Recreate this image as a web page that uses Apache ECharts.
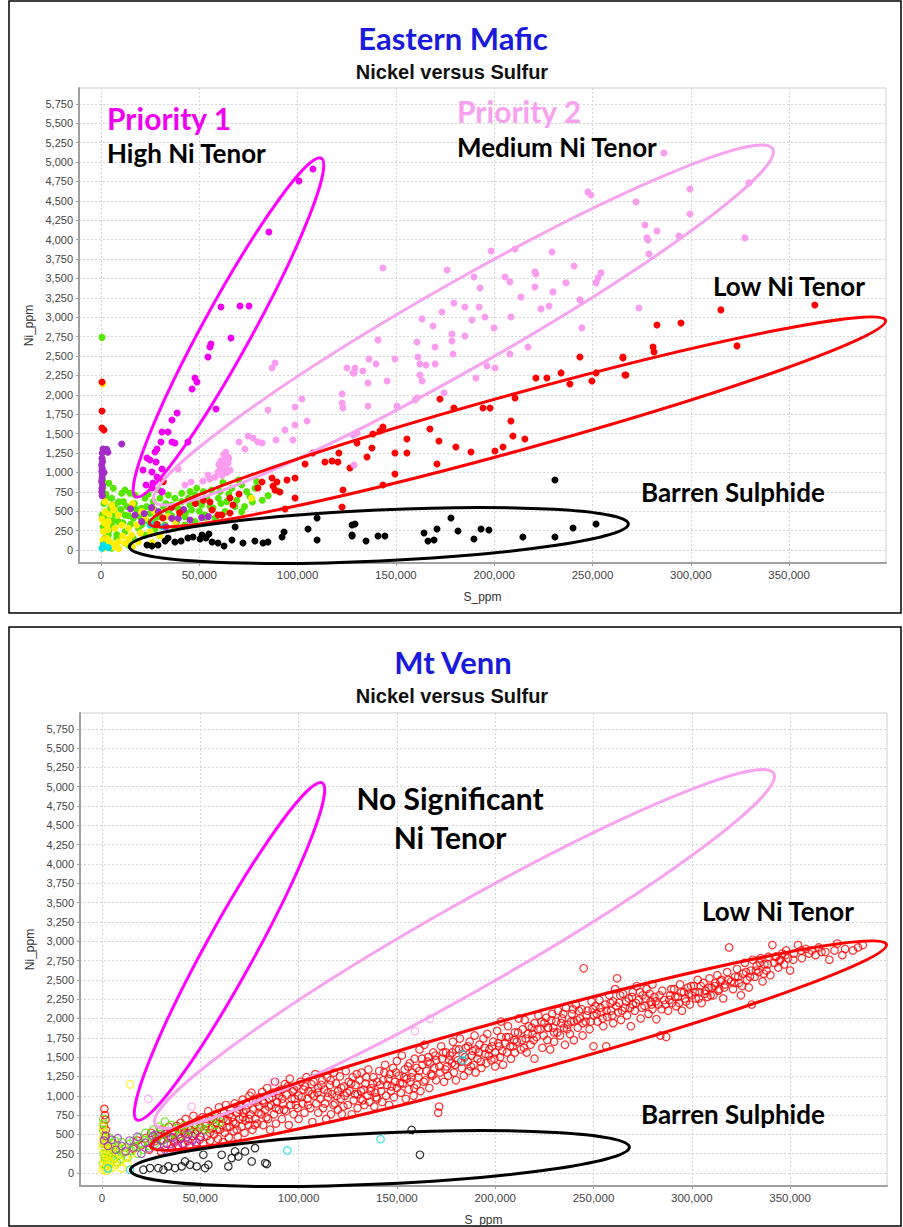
<!DOCTYPE html>
<html><head><meta charset="utf-8">
<script src="https://cdn.jsdelivr.net/npm/echarts@6.0.0/dist/echarts.min.js"></script>
<style>html,body{margin:0;padding:0;background:#fff}#c{width:903px;height:1227px}</style>
</head><body><div id="c"></div><script>
// ---------- tick labels ----------
const xTicks = [0, 50000, 100000, 150000, 200000, 250000, 300000, 350000];
const yTicks = [0,250,500,750,1000,1250,1500,1750,2000,2250,2500,2750,3000,3250,3500,3750,4000,4250,4500,4750,5000,5250,5500,5750];

// ---------- Eastern Mafic (filled points) [S_ppm, Ni_ppm] ----------
const emMagenta = [[107800,4910],[100700,4756],[85400,4099],[61000,3132],[70700,3145],[75300,3145],[66100,2733],[55900,2655],[55400,2617],[54400,2488],[47800,2217],[48800,2165],[46300,2075],[58500,1817],[38700,1766],[36100,1676],[31000,1521],[34100,1521],[44200,1392],[36100,1392],[37600,1379],[30500,1392],[28500,1302],[27500,1263],[23400,1186],[24900,1160],[28000,1134],[21400,1031],[25900,1005],[31000,1044],[28500,941],[22900,838],[26400,864],[25900,799],[31000,748]];
const emPink = [[143400,3635],[247700,4615],[249200,4576],[198400,3854],[210600,3880],[229400,3841],[176000,3609],[240600,3661],[189700,3519],[205500,3519],[208000,3455],[220700,3584],[221200,3558],[254300,3571],[252800,3506],[251800,3442],[236500,3442],[192800,3377],[220700,3390],[229900,3326],[213600,3261],[179500,3184],[185100,3132],[192300,3132],[173400,3068],[243600,3223],[227900,3145],[223800,3107],[163300,2978],[168900,2887],[188700,2965],[195300,3003],[208500,3003],[199900,2862],[244600,2862],
[286300,5117],[299600,4653],[272100,4486],[329600,4731],[299600,4331],[276700,4189],[282800,4112],[277700,4022],[278200,3996],[294000,4047],[327500,4022],[278700,3815],[273600,3119],
[140900,2707],[178500,2784],[178500,2694],[185100,2758],[160700,2681],[169900,2617],[179000,2526],[149500,2462],[136300,2462],[139900,2398],[161200,2488],[162200,2398],[165300,2385],[169900,2398],[133200,2307],[129200,2346],[128700,2282],[145500,2178],[162200,2256],[163300,2178],[135800,2153],[190700,2217],[196300,2372],[200400,2346],[208000,2526],[217200,2617],[174500,2024],[160700,1959],[159700,1933],[150500,1856],[135800,1856],[130200,1508],[128200,1482],
[88500,2410],[87000,2346],[125100,2346],[128200,2282],[102200,1946],[98700,1843],[122600,2011],[122600,1895],[123100,1830],[84900,1805],[104800,1663],[98700,1611],[93600,1547],[97600,1418],[89000,1418],[79800,1392],[77300,1444],[74800,1469],[81900,1379],[70200,1392],[73200,1302],[64600,1199],[63100,1173],[61500,1121],[60500,1070],[64600,1121],[62000,1031],[59500,1005],[58000,941],[65600,1031],[54400,967],[51900,889],[55400,915],[45800,877],[42700,838],[39200,1044],[128700,1096],
[61000,1150],[63000,1080],[62500,1230],[60000,1100],[64000,1000],[61500,960],[63500,1260],[65000,1180]];
const emRed = [[315300,3094],[363100,3158],[282800,2900],[295000,2926],[323500,2630],[280800,2617],[281300,2552],[265500,2475],[267000,2256],[243600,2488],[265500,2488],[266500,2256],[251800,2282],[249700,2178],[234000,2282],[226800,2217],[221200,2217],[238500,2140],[210600,1959],[172400,1946],[179500,1830],[194300,1830],[197900,1830],[208500,1663],[209500,1469],[215600,1431],[167300,1560],[171900,1405],[155600,1431],[143400,1585],[141900,1534],[138300,1495],[130200,1379],[137800,1315],[135300,1199],[149500,1250],[155600,1250],[180500,1328],[188200,1263],[200400,1276],[204500,1328],[170900,1109],[149500,980],[143400,838],[126600,1057],
[107800,1250],[121000,1250],[117500,1147],[120500,1134],[113900,1134],[103800,1109],[98700,928],[94600,902],[89500,877],[87500,825],[88500,773],[91000,748],[81900,877],[79800,799],[87000,928],[70200,722],[65600,670],[67100,580],[61500,451],[55400,619],[56500,516],[59500,451],[65600,477],[93600,529],[98700,670],[123100,773],[122600,554],
[500,2165],[500,1792],[500,1573],[1500,1547],[31500,412],[28500,330],[36000,550],[40000,480],[48000,600],[52000,640],[31700,881]];
const emBlack = [[230900,902],[178000,412],[129200,335],[127700,180],[134800,116],[140900,180],[144400,180],[164300,219],[166300,116],[169400,129],[170900,271],[181600,245],[189700,142],[193300,271],[197300,258],[214600,168],[230900,168],[240100,284],[251800,335],
[109900,412],[105300,271],[93100,232],[92100,168],[84900,103],[82400,90],[78300,116],[72200,90],[62600,52],[59500,90],[66600,129],[68200,296],[54900,206],[53400,155],[46800,168],[44200,155],[40700,116],[37600,103],[32600,116],[29000,64],[25900,52],[23400,64],[127700,322],[127700,193],[109900,129],[50400,142],[56500,103],[51400,193],[34100,155]];
const emGreen = [[6270,795],[12210,773],[17290,709],[22380,666],[11360,623],[7120,580],[15600,559],[20680,537],[26610,623],[30010,666],[34240,709],[37640,666],[41030,623],[44420,666],[47810,709],[52050,752],[56290,773],[60520,752],[66460,795],[71540,838],[74090,752],[78320,795],[75780,687],[79170,881],[51200,580],[46110,516],[42720,430],[38480,365],[34240,494],[30010,430],[25770,365],[20680,322],[16440,408],[12210,451],[8810,365],[5430,322],[3730,193],[7970,150],[12210,236],[16440,150],[22380,193],[27460,271],[32550,322],[37640,279],[42720,322],[47810,365],[52890,451],[57980,408],[63070,494],[68150,559],[71540,494],[2880,666],[3730,494],[2030,365],[5430,666],[14750,730],[10510,730],[1190,107],[5430,21],[13900,64],[24920,473],[31700,559],[40180,516],[45270,580],[55440,559],[63910,623],[59680,666],[53740,666],[48660,614],[35940,580],[41030,730],[45270,752],[48660,795],[19840,430],[23230,559],[500,2740],[1000,800],[85000,700],[90000,760],[62000,870],[70000,900],
[2000,150],[3000,420],[4000,250],[5000,560],[6000,380],[7000,460],[8000,200],[9000,620],[10000,520],[11000,350],[13000,560],[14000,440],[15000,330],[17000,600],[18000,520],[19000,280],[21000,460],[23000,380],[24000,720],[27000,520],[28000,420],[29000,780],[33000,600],[36000,440],[39000,540],[43000,480],[46000,640],[50000,500],[53000,420],[57000,540],[61000,600],[65000,720],[69000,640],[73000,560],[77000,620],[82000,640],[1000,300],[1500,600],[600,450],[1200,700],[2500,720],[4000,860],[800,900]];
const emYellow = [[1190,236],[2880,150],[4580,107],[7120,64],[8810,107],[12210,86],[15600,193],[18140,322],[20680,494],[22380,408],[5430,580],[2030,494],[3730,365],[10510,322],[13900,279],[18990,107],[29160,322],[24920,236],[34240,430],[37640,365],[7120,279],[8810,451],[1190,21],[2880,322],[2030,623],[1000,2140],[2500,1270],[76600,666],
[500,400],[1500,350],[3500,260],[6000,40],[9000,20],[11000,180],[14000,140],[16000,40],[20000,220],[26000,100],[30000,180],[4000,460],[6500,520],[1000,130],[2000,60],[16000,600],[27000,500]];
const emCyan = [[500,21],[1190,64],[24920,322],[25770,330],[31200,300],[3730,30]];
const emPurple = [[500,1182],[800,1139],[300,1096],[600,1053],[400,1010],[700,967],[500,924],[300,881],[800,838],[500,795],[400,750],[600,700],[10510,1366],[2880,1298],[3500,1260],[35940,408],[45270,387],[51200,417],[31000,752],[25770,546],[29160,494],[17290,451],[20680,365],[39330,408],[54590,430],
[1000,1300],[600,1250],[1500,1000],[15000,530],[22000,470],[33000,300],[42000,520]];

// ---------- Mt Venn (hollow points) [S_ppm, Ni_ppm] ----------
const mvRed = [[1200,830],[1500,750],[1800,690],[1000,610],[2000,560],[1500,480],
[16000,310],[18000,420],[20000,360],[22000,450],[24000,300],[25000,520],[27000,410],[28000,350],[29000,480],[30000,560],[30000,280],
[31000,430],[32000,510],[33000,380],[34000,600],[35000,470],[35500,320],[36000,540],[37000,420],[38000,610],[38500,360],[39000,500],[40000,450],[40000,650],[40500,560],
[41000,380],[42000,520],[42500,700],[43000,460],[44000,610],[44500,350],[45000,560],[46000,480],[46500,740],[47000,620],[48000,400],[48500,540],[49000,680],[50000,470],[50000,590],
[51000,720],[51500,380],[52000,560],[53000,640],[53500,480],[54000,800],[55000,420],[55500,700],[56000,580],[57000,500],[57500,760],[58000,650],[59000,440],[59500,850],[60000,560],[60000,720],
[61000,620],[61500,400],[62000,780],[62500,520],[63000,880],[64000,680],[64500,460],[65000,600],[65500,820],[66000,720],[67000,540],[67500,900],[68000,640],[68500,780],[69000,470],[70000,700],[70000,860],
[71000,600],[71500,950],[72000,780],[72500,520],[73000,680],[74000,880],[74500,620],[75000,1000],[75500,760],[76000,1040],[76500,560],[77000,820],[78000,700],[78500,920],[79000,640],[80000,860],[80000,980],
[81000,760],[81500,1050],[82000,620],[82500,900],[83000,820],[84000,1100],[84500,700],[85000,960],[85500,560],[86000,880],[87000,1040],[87500,760],[88000,1180],[88500,640],[89000,920],[90000,1000],[90000,820],
[91000,1080],[91500,700],[92000,900],[93000,1150],[93500,800],[94000,1010],[95000,620],[95500,1220],[96000,880],[97000,1060],[97500,760],[98000,960],[99000,1120],[99500,840],[100000,1000],[100000,700],
[101000,1180],[102000,900],[102500,1080],[103000,780],[104000,1240],[104500,960],[105000,1060],[106000,840],[106500,1150],[107000,660],[108000,1000],[108500,1280],[109000,900],[110000,1100],[110000,780],
[111000,960],[112000,1200],[112500,840],[113000,1080],[114000,700],[114500,1240],[115000,980],[116000,1140],[116500,760],[117000,1020],[118000,1300],[118500,900],[119000,1160],[120000,820],[120000,1060],
[121000,1250],[121500,960],[122000,760],[123000,1120],[123500,1000],[124000,1320],[125000,880],[125500,1180],[126000,1060],[127000,760],[127500,1240],[128000,940],[129000,1140],[130000,1020],[130000,840],
[131000,1200],[131500,960],[132000,1300],[133000,1080],[133500,880],[134000,1160],[135000,1000],[135500,1340],[136000,920],[137000,1100],[138000,1240],[138500,860],[139000,1040],[140000,1180],[140000,960],
[141000,1320],[142000,1060],[142500,920],[143000,1200],[144000,1400],[144500,1000],[145000,1140],[146000,880],[146500,1280],[147000,1060],[148000,1360],[148500,980],[149000,1180],[150000,1100],[150000,1450],
[151000,1260],[152000,1040],[152500,1520],[153000,1160],[154000,1340],[154500,960],[155000,1220],[156000,1080],[156500,1420],[157000,1180],[158000,1300],[158500,1000],[159000,1480],[160000,1140],[160000,1360],
[161000,1240],[161500,1600],[162000,1060],[163000,1400],[164000,1660],[164500,1200],[165000,1320],[166000,1500],[166500,1100],[167000,1420],[168000,1260],[168500,1560],[169000,1360],[170000,1200],[170000,1460],[171000,780],[171500,860],
[172000,1300],[172500,1640],[173000,1480],[174000,1180],[175000,1560],[175500,1380],[176000,1260],[177000,1520],[178000,1420],[178500,1700],[179000,1300],[180000,1600],[180000,1200],
[181000,1460],[182000,1740],[183000,1360],[183500,1540],[184000,1260],[185000,1620],[186000,1440],[186500,1320],[187000,1700],[188000,1520],[189000,1400],[189500,1780],[190000,1600],[190000,1300],
[191000,1480],[192000,1660],[193000,1360],[194000,1740],[195000,1540],[195500,1420],[196000,1800],[197000,1600],[198000,1460],[199000,1700],[200000,1380],[200000,1560],
[201000,1840],[202000,1640],[202500,1500],[203000,1760],[204000,1400],[205000,1680],[206000,1560],[206500,1900],[207000,1760],[208000,1480],[209000,1640],[210000,1820],[210000,1560],[203000,1960],
[211000,1700],[212000,2000],[213000,1600],[214000,1860],[215000,1980],[215500,1740],[216000,1560],[217000,1900],[218000,1660],[219000,1800],[220000,1480],[220000,1940],
[221000,1760],[222000,2040],[223000,1860],[224000,1620],[225000,1940],[226000,2010],[226500,1720],[227000,1880],[228000,1600],[229000,2060],[230000,1820],[230000,1700],
[231000,1960],[232000,2100],[233000,1780],[234000,2000],[235000,1880],[235500,1660],[236000,2140],[237000,1920],[238000,1800],[239000,2060],[240000,1960],[240000,1720],
[241000,2180],[242000,1880],[243000,2000],[244000,2120],[244500,1780],[245000,2650],[246000,1960],[247000,2100],[248000,1860],[249000,2220],[250000,2040],[250000,1640],
[251000,2160],[252000,1960],[253000,2240],[254000,2080],[255000,1900],[256000,2180],[256500,1640],[257000,2020],[258000,2300],[259000,2100],[260000,1940],[260000,2220],
[261000,2380],[262000,2520],[262500,2080],[263000,2200],[264000,1980],[265000,2320],[266000,2140],[267000,2040],[268000,2260],[269000,1900],[270000,2180],[270000,2340],
[271000,2100],[272000,2420],[273000,2240],[274000,2000],[275000,2300],[276000,2160],[277000,2380],[278000,2060],[279000,2220],[280000,2120],[280000,2440],
[281000,2280],[282000,1990],[283000,2180],[284000,1780],[285000,2360],[286000,2240],[287000,1760],[288000,2100],[289000,2300],[290000,2200],
[291000,2380],[292000,2160],[293000,2280],[294000,2440],[295000,2100],[296000,2340],[297000,2220],[298000,2400],[299000,2180],[300000,2300],
[301000,2420],[302000,2260],[303000,2500],[304000,2340],[305000,2200],[306000,2460],[307000,2360],[308000,2280],[309000,2520],[310000,2400],
[311000,2300],[312000,2460],[313000,2560],[314000,2380],[315000,2500],[316000,2260],[317000,2440],[318000,2600],[319000,2920],[320000,2480],
[321000,2380],[322000,2540],[323000,2640],[324000,2460],[325000,2300],[326000,2580],[327000,2720],[328000,2500],[329000,2400],[330000,2620],[330500,2180],
[331000,2760],[332000,2540],[333000,2680],[334000,2600],[335000,2780],[336000,2480],[337000,2700],[338000,2620],[339000,2800],[340000,2560],
[341000,2950],[342000,2720],[343000,2800],[344000,2660],[345000,2760],[346000,2840],[347000,2700],[348000,2880],[349000,2780],[350000,2620],
[352000,2840],[354000,2950],[356000,2780],[358000,2900],[361000,2880],[363000,2820],[366000,2860],[368000,2860],[370000,2760],[374000,2970],[378000,2900],[382000,2880],[387000,2950],
[33700,455],[36800,395],[41800,590],[43600,415],[47300,510],[49700,430],[52700,610],[54800,520],[56600,690],[58400,560],[61700,700],[63400,590],[64800,760],[66700,660],[68600,560],[69800,820],[71800,720],[73300,820],[74800,700],[76800,940],[77700,620],[79600,780],[81700,940],[83600,720],[84800,860],[86700,980],[88400,840],[89600,1060],[91700,960],[92600,820],[94400,1120],[96400,960],[97700,1080],[98600,880],
[101600,980],[103400,1120],[104800,880],[106700,1020],[107600,1180],[109600,1040],[111600,1140],[113400,900],[114800,1040],[116300,1200],[117700,880],[119400,1000],[121700,1100],[122800,860],[124600,1040],[126700,1160],[128700,1020],[129600,1280],[131700,1060],[132600,940],[134400,1240],[136600,1060],[137700,1160],[139400,980],[141600,1140],[143600,1300],[145700,1220],[147400,1120],[149600,1300],
[151600,1160],[153600,1240],[155700,1380],[157400,1240],[158800,1100],[161400,1320],[162700,1480],[163700,1180],[165600,1440],[167400,1280],[169600,1520],[171600,1380],[173600,1560],[174600,1340],[176600,1460],[178200,1560],[179600,1400],[181600,1600],[182700,1440],[184600,1500],[186200,1640],[187600,1380],[188600,1580],
[191600,1560],[192700,1440],[194600,1620],[196700,1520],[198400,1640],[199600,1480],[201600,1680],[203600,1580],[205600,1760],[207600,1640],[209600,1720],[211600,1820],[213600,1720],[214600,1620],[216600,1800],[218600,1880],[219600,1720],[221600,1860],[223600,1960],[224600,1780],[226800,1880],[228600,1980],[229600,1880],
[231600,1820],[233600,1940],[234600,2060],[236600,1860],[238600,1960],[239600,2120],[241600,1980],[242600,2100],[244600,1940],[246600,2040],[248600,1960],[249600,2120],[251600,2060],[253600,2140],[254600,2000],[256600,2100],[258600,2200],[259600,2040],[261600,2160],[263600,2300],[264600,2100],[266600,2220],[268600,2140],[269600,2280],
[271600,2200],[273600,2340],[274600,2140],[276600,2260],[278600,2320],[279600,2180],[281600,2220],[283600,2300],[284600,2120],[286600,2180],[288600,2240],[289600,2380],[291600,2280],[293600,2200],[294600,2340],[296600,2260],[298600,2320],[299600,2420],[301600,2340],[303600,2260],[304600,2420],[306600,2320],[308600,2400],[309600,2300],
[311600,2420],[313600,2360],[314600,2480],[316600,2400],[318600,2500],[321600,2460],[323600,2540],[325600,2420],[327600,2600],[329600,2540],[332600,2620],[334600,2720],[336600,2580],[338600,2700],[342600,2800],[344600,2740],[347600,2820],[351600,2760],[355600,2880],[359600,2840],[364600,2920],[372600,2880],[376600,2820],[384600,2920]];
const mvGreen = [[500,120],[800,250],[1000,380],[1200,460],[1500,200],[1800,320],[2000,90],[2200,410],[2500,270],[2800,150],[3000,350],[3300,220],[3600,460],[4000,300],[4300,130],[4600,390],[5000,240],[5500,330],[6000,180],[6500,420],[7000,270],[7500,140],[8000,350],[8500,230],[9000,300],[9500,180],[10000,400],[11000,260],[12000,330],[13000,200],[14000,380],[15000,290],[16000,420],[17000,340],[18000,250],[19000,460],[20000,380],[21000,300],[22000,520],[23000,410],[24000,350],[25000,470],[26000,560],[27000,380],[28000,440],[29000,600],[30000,500],[31000,420],[32000,666],[33000,540],[34000,460],[35400,623],[36000,510],[38000,580],[40000,480],[42000,620],[44000,560],[46000,520],[48000,640],[50000,600],[52000,560],[54100,580],[55800,730],[58000,620],[60000,660],[500,560],[800,640],[1000,520],[600,700]];
const mvYellow = [[300,40],[600,100],[900,180],[1200,60],[1500,260],[1800,140],[2100,30],[2400,220],[2700,90],[3000,300],[3300,160],[3600,50],[4000,240],[4500,120],[5000,330],[5500,70],[6000,200],[7000,110],[8000,260],[9000,150],[10000,60],[12000,200],[400,380],[700,450],[1000,520],[500,600],[14240,1147],[300,320],[1200,400],[2500,370],[11000,330],[13000,130],[15000,250],[6500,380]];
const mvPurple = [[10000,350],[12000,280],[14000,420],[16000,330],[18000,470],[20000,250],[22000,390],[24000,320],[26000,480],[27100,494],[28000,360],[30000,420],[32000,300],[33000,520],[35000,380],[36000,460],[38000,330],[40000,440],[42000,380],[44000,500],[46000,420],[48000,360],[50000,470],[2000,480],[1000,420],[3000,350],[5000,430],[7000,300],[8000,450]];
const mvPink = [[23560,958],[45600,859],[87130,1182],[159200,1835],[166800,1998]];
const mvBlack = [[77820,322],[83000,129],[83850,116],[76130,150],[67650,279],[69340,215],[65960,193],[54090,107],[52390,64],[48150,86],[44760,107],[40520,86],[37130,64],[33740,86],[31200,43],[28660,64],[24420,64],[21030,43],[64270,86],[60880,236],[72730,279],[51540,236],[42210,150],[157500,558],[161700,236]];
const mvCyan = [[14240,43],[94260,292],[141700,438],[183400,1534],[183400,1457],[3000,60]];

// ---------- hand-drawn zones (tips of major axis in data units, half width in px) ----------
const zones = [
  {from:[17300,670], to:[112400,5065], half:26, color:'#ff00ff'},
  {from:[26450,619], to:[342300,5180], half:44, color:'#f7a3f0'},
  {from:[23900,335], to:[399800,2964], half:29.5, color:'#ff0000'},
  {from:[13700,39],  to:[269000,335], half:27, color:'#000000'}
];

const COL = {magenta:'#f000f0', pink:'#fa9cf0', red:'#ff0000', black:'#000000', green:'#55e600', yellow:'#ffee00', cyan:'#00e0e8', purple:'#a52cc8'};

const chart = echarts.init(document.getElementById('c'), null, {renderer:'svg'});
const fmt = v => v.toLocaleString('en-US');
const grids = [{left:79, top:88, width:807, height:475}, {left:80, top:713, width:807, height:475}];

function xAx(i){ return {gridIndex:i, type:'value', min:-11200, max:399300,
  axisLine:{show:true,onZero:false,lineStyle:{color:'#a0a0a0',width:2}},
  axisTick:{show:true,customValues:xTicks,length:3,lineStyle:{color:'#a0a0a0'}},
  axisLabel:{customValues:xTicks,formatter:fmt,color:'#444',fontSize:11.5,fontFamily:'Liberation Sans, Arial',margin:6},
  splitLine:{show:true,lineStyle:{color:'#d6d6d6',type:[2,2],width:1}},
  name:'S_ppm', nameLocation:'middle', nameGap:28, nameTextStyle:{color:'#333',fontSize:12,fontFamily:'Liberation Sans, Arial'}}; }
function yAx(i){ return {gridIndex:i, type:'value', min:-168, max:5954,
  axisLine:{show:true,onZero:false,lineStyle:{color:'#a0a0a0',width:2}},
  axisTick:{show:true,customValues:yTicks,length:3,lineStyle:{color:'#a0a0a0'}},
  axisLabel:{customValues:yTicks,formatter:fmt,color:'#444',fontSize:11,fontFamily:'Liberation Sans, Arial',margin:6},
  splitLine:{show:true,lineStyle:{color:'#d6d6d6',type:[2,2],width:1}},
  name:'Ni_ppm', nameLocation:'middle', nameGap:40, nameRotate:90, nameTextStyle:{color:'#333',fontSize:12,fontFamily:'Liberation Sans, Arial'}}; }

function sc(data, color, gi, hollow){
  return {type:'scatter', xAxisIndex:gi, yAxisIndex:gi, data:data, symbol:'circle', symbolSize: hollow?7.5:7,
    itemStyle: hollow ? {color:'rgba(0,0,0,0)', borderColor:color, borderWidth:1.2} : {color:color, opacity:1},
    silent:true, animation:false};
}

function txt(x,y,text,font,fill,align){
  return {type:'text', x:x, y:y, z:200, silent:true,
    style:{text:text, font:font, fill:fill, textAlign:align||'left', align:align||'left', textVerticalAlign:'middle', verticalAlign:'middle'}};
}

const LBL = 'bold 26px Lato';
const graphics = [
  {type:'rect', shape:{x:9,y:1,width:892,height:612}, style:{fill:'none',stroke:'#000',lineWidth:1.5}, silent:true},
  {type:'rect', shape:{x:9,y:627,width:892,height:599}, style:{fill:'none',stroke:'#000',lineWidth:1.5}, silent:true},
  txt(453,38,'Eastern Mafic','bold 31px Lato','#1a1adc','center'),
  txt(452,72,'Nickel versus Sulfur','bold 20px "Liberation Sans"','#111','center'),
  txt(453,662,'Mt Venn','bold 31px Lato','#1a1adc','center'),
  txt(452,696,'Nickel versus Sulfur','bold 20px "Liberation Sans"','#111','center'),
  txt(107,118,'Priority 1','bold 30px Lato','#f000f0'),
  txt(107,153,'High Ni Tenor',LBL,'#000'),
  txt(457,111,'Priority 2','bold 30px Lato','#f9a0f0'),
  txt(457,147,'Medium Ni Tenor',LBL,'#000'),
  txt(713,286,'Low Ni Tenor',LBL,'#000'),
  txt(641,492,'Barren Sulphide',LBL,'#000'),
  txt(450,798,'No Significant','bold 30px Lato','#000','center'),
  txt(450,837,'Ni Tenor','bold 30px Lato','#000','center'),
  txt(702,911,'Low Ni Tenor',LBL,'#000'),
  txt(641,1114,'Barren Sulphide',LBL,'#000')
];

const option = {
  backgroundColor:'#fff', animation:false,
  grid: grids.map(g => Object.assign({show:true, borderColor:'#cfcfcf', borderWidth:1, backgroundColor:'transparent'}, g)),
  xAxis:[xAx(0), xAx(1)], yAxis:[yAx(0), yAx(1)],
  series:[
    sc(emGreen,COL.green,0), sc(emYellow,COL.yellow,0), sc(emCyan,COL.cyan,0), sc(emPurple,COL.purple,0),
    sc(emBlack,COL.black,0), sc(emRed,COL.red,0), sc(emPink,COL.pink,0), sc(emMagenta,COL.magenta,0),
    sc(mvRed,COL.red,1,true), sc(mvGreen,COL.green,1,true), sc(mvYellow,COL.yellow,1,true), sc(mvPurple,COL.purple,1,true),
    sc(mvPink,COL.pink,1,true), sc(mvBlack,COL.black,1,true), sc(mvCyan,COL.cyan,1,true)
  ],
  graphic: graphics
};
chart.setOption(option);

function ellipse(gi, z){
  const p1 = chart.convertToPixel({gridIndex:gi}, z.from);
  const p2 = chart.convertToPixel({gridIndex:gi}, z.to);
  const dx = p2[0]-p1[0], dy = p2[1]-p1[1];
  const len = Math.hypot(dx,dy);
  return {type:'ellipse', x:(p1[0]+p2[0])/2, y:(p1[1]+p2[1])/2, rotation:Math.atan2(-dy,dx), z:150, silent:true,
    shape:{cx:0, cy:0, rx:len/2-1.5, ry:z.half-1.5}, style:{fill:'none', stroke:z.color, lineWidth:3}};
}
const ell = [];
[0,1].forEach(gi => zones.forEach(z => ell.push(ellipse(gi,z))));
chart.setOption({graphic: graphics.concat(ell)}, {replaceMerge:['graphic']});
</script></body></html>
